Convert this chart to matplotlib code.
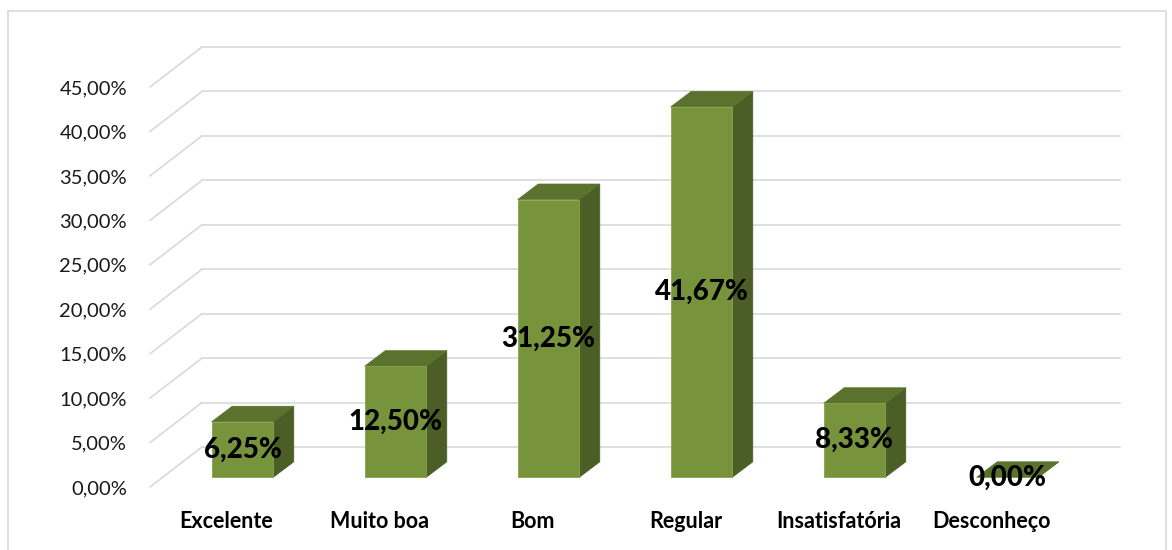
import matplotlib
matplotlib.use("Agg")
import matplotlib.pyplot as plt
from matplotlib.patches import Polygon, Rectangle
from matplotlib.lines import Line2D

categories = ["Excelente", "Muito boa", "Bom", "Regular", "Insatisfatória", "Desconheço"]
values = [6.25, 12.50, 31.25, 41.67, 8.33, 0.00]
yticks = [0, 5, 10, 15, 20, 25, 30, 35, 40, 45]

plt.rcParams['font.family'] = ['Lato', 'DejaVu Sans']

W, H = 1172, 550
fig = plt.figure(figsize=(W / 100, H / 100), dpi=100)
fig.patch.set_facecolor("white")

# front plane: x from 150 px to 1068 px, y 0% at 487 px, 45% at 87 px
ax = fig.add_axes([150 / W, (H - 487) / H, 918 / W, 400 / H])
ax.set_xlim(-0.5, 5.5)
ax.set_ylim(0, 45)
for s in ax.spines.values():
    s.set_visible(False)

px_x = 153.0          # pixels per category
px_y = 400.0 / 45.0   # pixels per percent

# oblique depth offsets (pixels -> data units)
wall_dx, wall_dy = 52 / px_x, 40 / px_y
bar_dx, bar_dy = 16 / px_x, 9.7 / px_y
dep_dx, dep_dy = 20.5 / px_x, 15.5 / px_y
bar_w = 61.6 / px_x

grid_c = "#d9d9d9"
front_c = "#77933C"
top_c = "#5B722E"
side_c = "#4A5E26"

# gridlines (side wall diagonals + back wall horizontals)
for v in yticks:
    ax.add_line(Line2D([-0.5, -0.5 + wall_dx], [v, v + wall_dy], color=grid_c,
                       lw=1.2, clip_on=False, zorder=1))
    ax.add_line(Line2D([-0.5 + wall_dx, 5.5 + wall_dx], [v + wall_dy, v + wall_dy],
                       color=grid_c, lw=1.2, clip_on=False, zorder=1))

xs = list(range(len(categories)))
for i, v in zip(xs, values):
    x0 = i + bar_dx - bar_w / 2
    x1 = x0 + bar_w
    y0 = bar_dy
    y1 = bar_dy + v
    # side face
    ax.add_patch(Polygon([(x1, y0), (x1 + dep_dx, y0 + dep_dy), (x1 + dep_dx, y1 + dep_dy), (x1, y1)],
                         closed=True, facecolor=side_c, edgecolor=side_c, lw=0.5,
                         clip_on=False, zorder=3))
    # top face
    ax.add_patch(Polygon([(x0, y1), (x1, y1), (x1 + dep_dx, y1 + dep_dy), (x0 + dep_dx, y1 + dep_dy)],
                         closed=True, facecolor=top_c, edgecolor=top_c, lw=0.5,
                         clip_on=False, zorder=3))

bars = ax.bar([i + bar_dx for i in xs], values, width=bar_w, bottom=bar_dy,
              color=front_c, edgecolor="#86A34A", linewidth=0.6, zorder=4, clip_on=False)

for i, v in zip(xs, values):
    ax.text(i + bar_dx, bar_dy + v / 2, f"{v:.2f}%".replace(".", ","),
            ha="center", va="center", fontsize=20, fontweight="black", color="black",
            zorder=6, clip_on=False)

ax.set_yticks(yticks)
ax.set_yticklabels([f"{t:.2f}%".replace(".", ",") for t in yticks], fontsize=14.5, color="#1a1a1a")
ax.set_xticks(xs)
ax.set_xticklabels(categories, fontsize=15.5, fontweight="bold", color="black")
ax.tick_params(axis="y", length=0, pad=16.5)
ax.tick_params(axis="x", length=0, pad=17)

# outer chart border
fig.patches.append(Rectangle((8 / W, -0.05), (1166 - 8) / W, (H - 11) / H + 0.05,
                             transform=fig.transFigure, fill=False,
                             edgecolor="#d9d9d9", lw=1.2, zorder=0))

fig.savefig("out.png", dpi=100, facecolor="white")
